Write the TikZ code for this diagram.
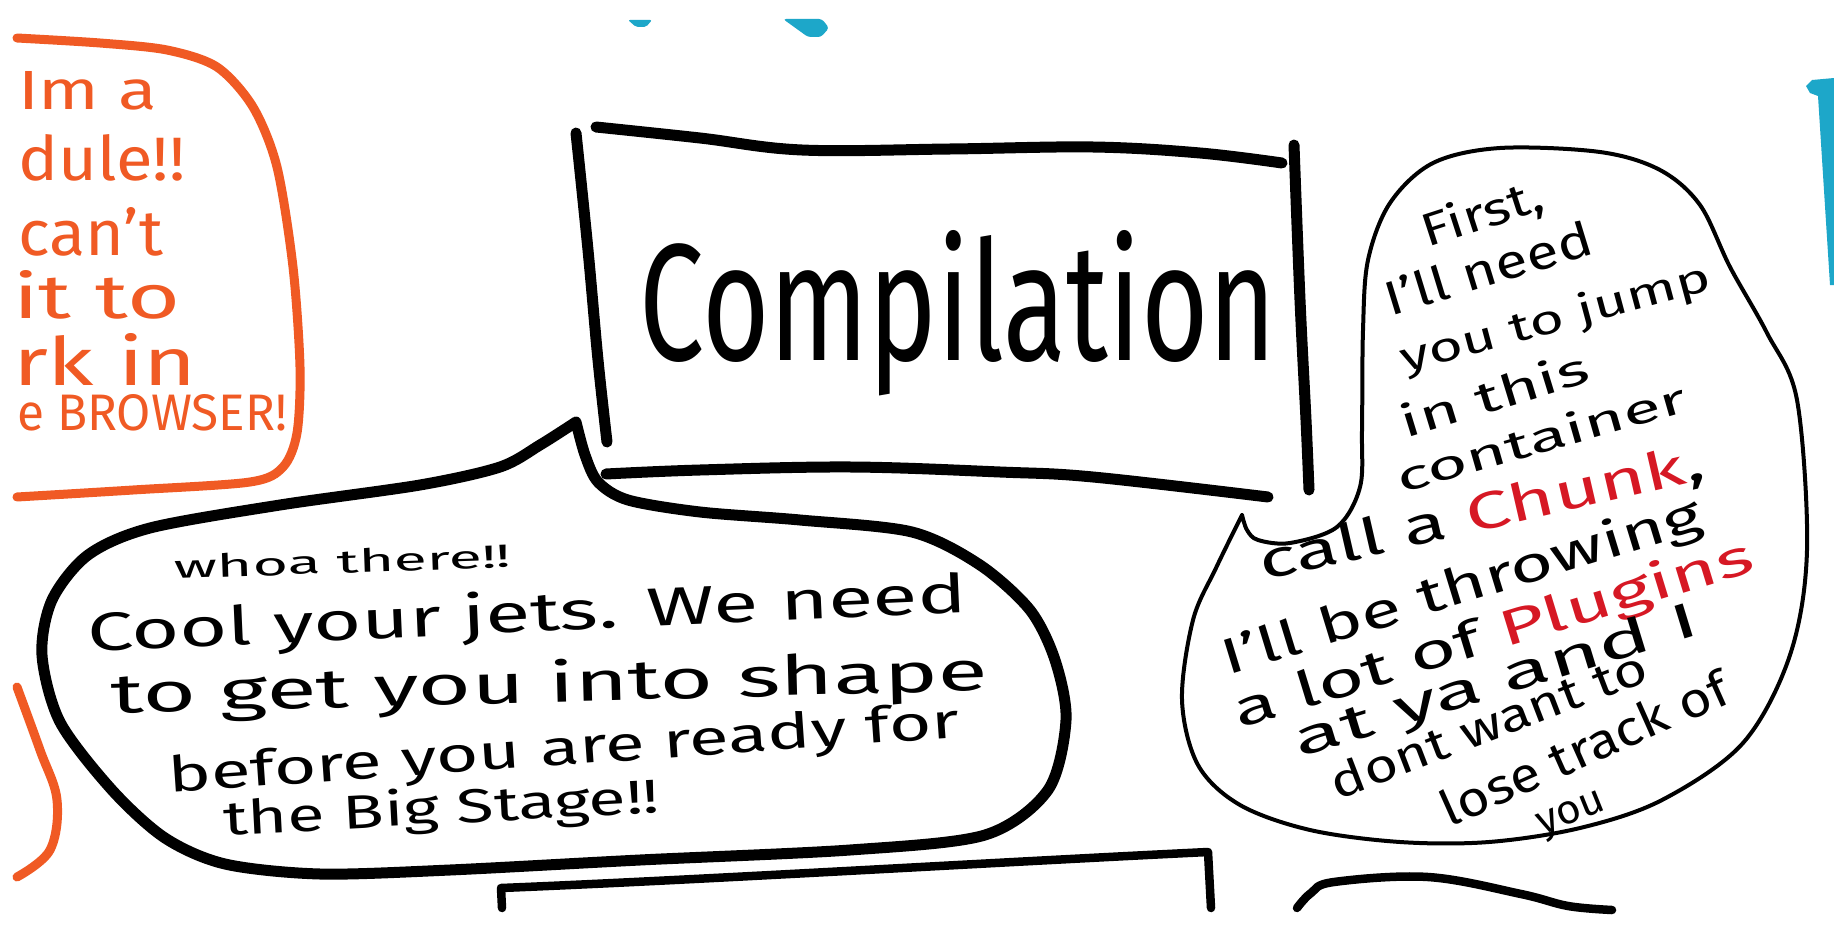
\documentclass[tikz,border=0pt]{standalone}
\usepackage{fontspec}
\setmainfont{Fira Sans}
\usepackage{graphicx}
\definecolor{orangeink}{RGB}{240,90,36}
\definecolor{chunkred}{RGB}{214,24,36}
\definecolor{tealink}{RGB}{29,167,201}
\newcommand{\hwt}[3]{\resizebox{#1pt}{#2pt}{#3}}
\begin{document}
\begin{tikzpicture}[x=1pt,y=-1pt,
  heavy/.style={draw=black, line width=11pt, line cap=round, line join=round},
  medium/.style={draw=black, line width=8.5pt, line cap=round, line join=round},
  thinline/.style={draw=black, line width=4pt, line cap=round, line join=round},
  orng/.style={draw=orangeink, line width=9pt, line cap=round, line join=round},
  txt/.style={inner sep=0pt, outer sep=0pt, text=black},
  otxt/.style={inner sep=0pt, outer sep=0pt, text=orangeink}]
\fill[white] (0,0) rectangle (1834,931);
\useasboundingbox (0,0) rectangle (1834,931);

% teal fragments
\fill[tealink, rounded corners=2pt] (628,20) -- (652,20) -- (646,27) -- (636,27) -- cycle;
\fill[tealink, rounded corners=3pt] (783,19) -- (822,19) -- (829,28) -- (821,37) -- (808,37) -- cycle;
\fill[tealink] (1806,86) -- (1812,80) -- (1834,78) -- (1834,285) -- (1830,285) -- (1818,96) -- (1810,93) -- cycle;

% orange bubble (left, cut off)
\draw[orng] plot[smooth, tension=0.5] coordinates {(17,38) (100,43) (167,50) (217,67) (253,107) (277,167) (293,267) (300,367) (297,433) (283,467) (250,482) (133,490) (17,497)};
\draw[orng] plot[smooth, tension=0.6] coordinates {(17,687) (40,750) (57,800) (50,850) (17,877)};
\node[otxt, anchor=base west] (o1) at (18,110) {\hwt{139}{38}{Im a}};
\node[otxt, anchor=base west] (o2) at (18,180) {\hwt{167}{46}{dule!!}};
\node[otxt, anchor=base west] (o3) at (18,255) {\hwt{145}{48}{can't}};
\node[otxt, anchor=base west] (o4) at (13,318) {\hwt{167}{48}{it to}};
\node[otxt, anchor=base west] (o5) at (13,385) {\hwt{184}{52}{rk in}};
\node[otxt, anchor=base west] (o6) at (17,430) {\hwt{270}{36}{e BROWSER!}};

% Compilation box
\draw[heavy] plot[smooth, tension=0.6] coordinates {(596,127) (700,138) (802,150) (950,149) (1093,147) (1200,153) (1282,163)};
\draw[heavy] plot[smooth, tension=0.6] coordinates {(576,133) (588,250) (598,360) (607,442)};
\draw[heavy] plot[smooth, tension=0.6] coordinates {(1294,145) (1300,300) (1306,420) (1309,490)};
\draw[heavy] plot[smooth, tension=0.6] coordinates {(606,474) (700,470) (851,467) (1000,472) (1093,477) (1268,497)};
\node[txt, anchor=base] (title) at (958,360) {\hwt{637}{130}{Compilation}};

% left speech bubble
\draw[heavy] plot[smooth, tension=0.5] coordinates {(576,422) (540,445) (500,467) (420,485) (280,505) (150,528) (88,555) (52,600) (42,655) (60,722) (112,790) (165,838) (225,864) (320,874) (450,870) (640,860) (850,850) (985,835) (1048,790) (1066,720) (1055,660) (1030,610) (980,565) (912,532) (800,520) (700,512) (628,500) (598,482) (585,455) (576,422)};
\node[txt, anchor=base, rotate=2] (whoa) at (343,573) {\hwt{337}{24}{whoa there!!}};
\node[txt, anchor=base, rotate=2.5] (cool) at (528,632) {\hwt{880}{42}{Cool your jets. We need}};
\node[txt, anchor=base, rotate=1.5] (toget) at (550,702) {\hwt{877}{43}{to get you into shape}};
\node[txt, anchor=base, rotate=4] (before) at (565,765) {\hwt{793}{37}{before you are ready for}};
\node[txt, anchor=base, rotate=3] (stage) at (442,824) {\hwt{436}{37}{the Big Stage!!}};

% right speech bubble
\draw[thinline] plot[smooth, tension=0.55] coordinates {(1242,515) (1216,568) (1193,620) (1182,700) (1198,765) (1240,805) (1310,830) (1400,842) (1489,842) (1580,828) (1662,800) (1743,743) (1790,655) (1807,550) (1797,400) (1767,333) (1730,267) (1700,205) (1660,170) (1600,152) (1500,148) (1433,163) (1390,203) (1368,260) (1363,330) (1362,430) (1360,487) (1337,527) (1290,543) (1258,540) (1247,530) (1242,515)};
\node[txt, rotate=18] (r1) at (1483,215) {\hwt{125}{36}{First,}};
\node[txt, rotate=17] (r2) at (1488,268) {\hwt{215}{36}{I'll need}};
\node[txt, rotate=15] (r3) at (1556,320) {\hwt{320}{32}{you to jump}};
\node[txt, rotate=17] (r4) at (1494,394) {\hwt{195}{34}{in this}};
\node[txt, rotate=16] (r5) at (1541,437) {\hwt{300}{32}{container}};
\node[txt, rotate=13] (r6) at (1482,515) {\hwt{455}{39}{call a {\color{chunkred}Chunk},}};
\node[txt, rotate=17] (r7) at (1462,589) {\hwt{500}{39}{I'll be throwing}};
\node[txt, rotate=17] (r8) at (1494,636) {\hwt{540}{39}{a lot of {\color{chunkred}Plugins}}};
\node[txt, rotate=17] (r9) at (1497,683) {\hwt{420}{37}{at ya and I}};
\node[txt, rotate=21] (r10) at (1488,724) {\hwt{335}{35}{dont want to}};
\node[txt, rotate=24] (r11) at (1584,748) {\hwt{310}{37}{lose track of}};
\node[txt, rotate=22] (r12) at (1572,816) {\hwt{70}{22}{you}};

% partial shapes at the bottom
\draw[medium] (502,908) -- (501,888) .. controls (700,880) and (1000,862) .. (1208,852) -- (1211,908);
\draw[medium] plot[smooth, tension=0.6] coordinates {(1297,908) (1311,893) (1334,882) (1428,877) (1521,894) (1568,906) (1612,910)};
\end{tikzpicture}
\end{document}
